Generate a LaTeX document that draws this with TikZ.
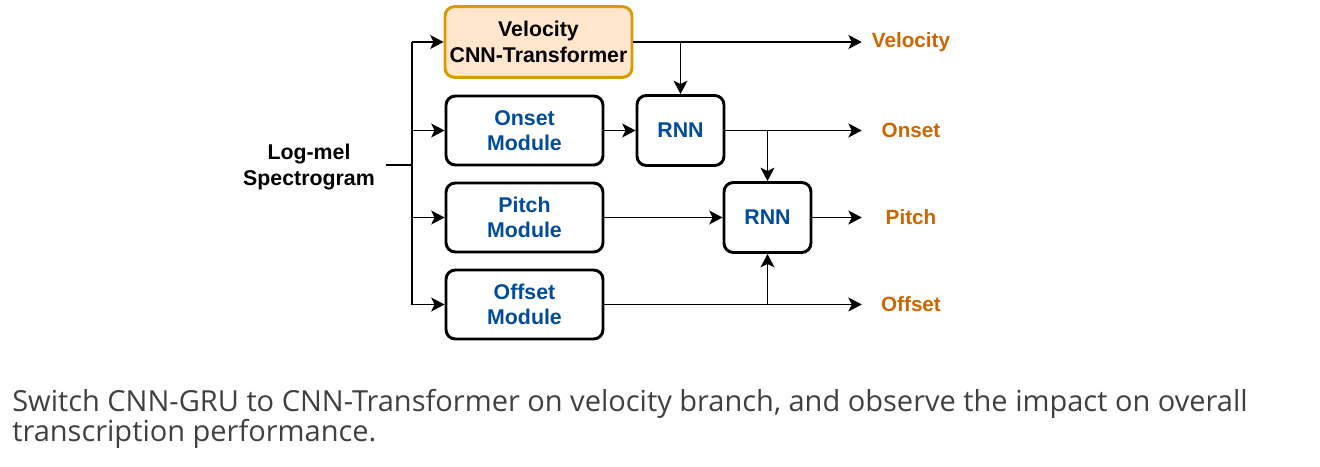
\documentclass[tikz,border=0pt]{standalone}
\usepackage{fontspec}
\setmainfont{Liberation Sans}
\newfontfamily\capfont{Open Sans}
\usepackage{xcolor}
\usetikzlibrary{arrows.meta,positioning,calc}

\definecolor{velfill}{HTML}{FFE6CC}
\definecolor{veldraw}{HTML}{D79B00}
\definecolor{outtext}{HTML}{CC6600}
\definecolor{modtext}{HTML}{004C99}
\definecolor{captext}{HTML}{404040}

\tikzset{
  block/.style={draw, line width=2.2pt, rounded corners=7pt, align=center,
    font=\fontsize{16}{19}\selectfont\bfseries, inner sep=0pt},
  modbox/.style={block, text=modtext, minimum width=117.75pt, minimum height=51.75pt},
  rnnbox/.style={block, text=modtext, minimum width=65.25pt, minimum height=52.5pt},
  velbox/.style={block, draw=veldraw, fill=velfill, text=black,
    minimum width=140.25pt, minimum height=53pt},
  outlbl/.style={text=outtext, font=\fontsize{15.5}{18}\selectfont\bfseries,
    minimum width=73.5pt, inner sep=0pt},
  conn/.style={line width=1.1pt, -{Stealth[length=10pt, width=10.5pt, inset=2.5pt]}},
  wire/.style={line width=1.1pt},
  captxt/.style={anchor=base west, inner sep=0pt, text=captext,
    font=\capfont\fontsize{21.75}{22}\selectfont}
}

\begin{document}
\begin{tikzpicture}[x=0.75pt, y=-0.75pt]
  \useasboundingbox (0,0) rectangle (1320,467);

  % Input label and bus
  \node[font=\fontsize{16}{19}\selectfont\bfseries, align=center, inner sep=0pt] (lmel) at (309,167) {Log-mel\\Spectrogram};
  \coordinate (inp) at (386,165);
  \coordinate (bus) at (412,165);

  % Branch blocks
  \node[velbox] (vel) at (538.5,42) {Velocity\\CNN-Transformer};
  \node[modbox] (onset) at (524.5,130.5) {Onset\\Module};
  \node[modbox] (pitch) at (524.5,217.5) {Pitch\\Module};
  \node[modbox] (offset) at (524.5,304.5) {Offset\\Module};

  % RNN blocks
  \node[rnnbox] (rnnA) at (680.5,130.5) {RNN};
  \node[rnnbox] (rnnB) at (767.5,217.5) {RNN};

  % Output labels
  \node[outlbl] (velout) at (911,42) {Velocity};
  \node[outlbl] (onout) at (911,130.5) {Onset};
  \node[outlbl] (piout) at (911,217.5) {Pitch};
  \node[outlbl] (offout) at (911,304.5) {Offset};

  % Input bus
  \draw[wire] (inp) -- (bus);
  \draw[wire] (bus |- vel.west) -- (bus |- offset.west);
  \foreach \m in {vel,onset,pitch,offset}
    \draw[conn] (bus |- \m.west) -- (\m.west);

  % Velocity branch
  \draw[conn] (vel.east) -- (velout.west);
  \draw[conn] (rnnA.north |- vel.east) -- (rnnA.north);

  % Onset branch
  \draw[conn] (onset.east) -- (rnnA.west);
  \draw[conn] (rnnA.east) -- (onout.west);
  \draw[conn] (rnnB.north |- rnnA.east) -- (rnnB.north);

  % Pitch branch
  \draw[conn] (pitch.east) -- (rnnB.west);
  \draw[conn] (rnnB.east) -- (piout.west);

  % Offset branch
  \draw[conn] (offset.east) -- (offout.west);
  \draw[conn] (rnnB.south |- offset.east) -- (rnnB.south);

  % Caption
  \node[captxt] (cap1) at (12,411) {Switch CNN-GRU to CNN-Transformer on velocity branch, and observe the impact on overall};
  \node[captxt] (cap2) at (12,441) {transcription performance.};
\end{tikzpicture}
\end{document}
